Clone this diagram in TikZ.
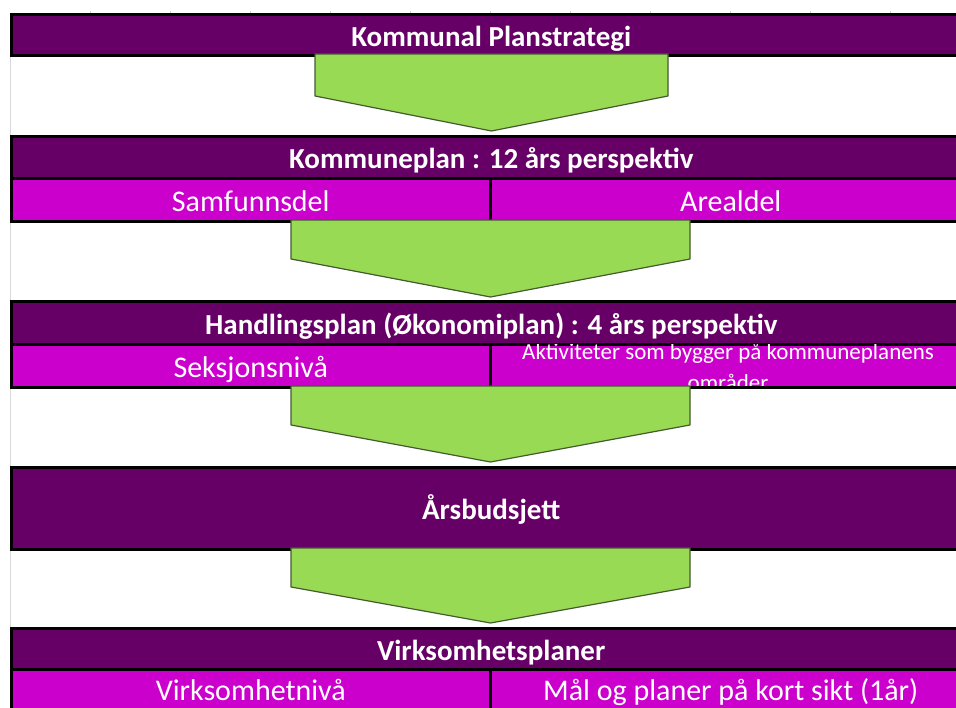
\documentclass[tikz,border=0pt]{standalone}
\usepackage{fontspec}
\setmainfont{Carlito}
\usetikzlibrary{calc}
\definecolor{plum}{RGB}{102,0,102}
\definecolor{orchid}{RGB}{204,0,204}
\definecolor{leaf}{RGB}{152,218,84}
\definecolor{leafedge}{RGB}{70,90,50}
\def\chevron(#1:#2)(#3:#4:#5){\draw[fill=leaf, draw=leafedge, line width=1.2pt, line join=round] (#1,#3) -- (#2,#3) -- (#2,#4) -- ({(#1+#2)/2},#5) -- (#1,#4) -- cycle;}
\tikzset{
	headbar/.style={draw=black, line width=2.5pt, fill=plum, text=white, anchor=north west, inner sep=0pt, minimum width=960, text height=26pt, text depth=3pt, font=\bfseries\fontsize{29}{34}\selectfont},
	subcell/.style={draw=black, line width=2.5pt, fill=orchid, text=white, anchor=north west, inner sep=0pt, minimum height=43, text height=26pt, text depth=3pt, font=\fontsize{30}{34}\selectfont}
}

\begin{document}
\begin{tikzpicture}[x=1pt, y=-1pt]
		%%%%% START %%%%%
		\useasboundingbox (0,0) rectangle (956,707);
		\clip (0,0) rectangle (956,707);
		
		\draw[color=black!15, line width=1pt] (10.5,13) -- (10.5,707);
		\foreach \tx in {90,170,...,890}
			\draw[color=black!20, line width=0.6pt] (\tx,10.5) -- (\tx,13);
		
		\node[headbar, minimum height=41] (strategi) at (10,13) {Kommunal Planstrategi};
		\chevron(315:668)(54:96:131);
		
		\node[headbar, minimum height=42] (kplan) at (10,135) {Kommuneplan : 12 års perspektiv};
		\node[subcell, minimum width=479] (samfunn) at (10,177) {Samfunnsdel};
		\node[subcell, minimum width=481] (areal) at (489,177) {Arealdel};
		\chevron(291:690)(220:259:297);
		
		\node[headbar, minimum height=43] (hplan) at (10,300) {Handlingsplan (Økonomiplan) : 4 års perspektiv};
		\node[subcell, minimum width=479] (seksjon) at (10,343) {Seksjonsnivå};
		\node[subcell, minimum width=481] (aktiv) at (489,343) {};
		\begin{scope}
			\clip (490,344) rectangle (970,385);
			\node[anchor=north, text=white, align=center, inner sep=0pt, font=\fontsize{23}{31}\selectfont] (aktivtekst) at (728,343) {Aktiviteter som bygger på kommuneplanens\\områder};
		\end{scope}
		\chevron(291:690)(386:425:462);
		
		\node[headbar, minimum height=82] (budsjett) at (10,466) {Årsbudsjett};
		\chevron(291:690)(548:587:623);
		
		\node[headbar, minimum height=41] (vplan) at (10,627) {Virksomhetsplaner};
		\node[subcell, minimum width=479, text height=24pt, text depth=5pt] (vniva) at (10,668) {Virksomhetnivå};
		\node[subcell, minimum width=481, text height=24pt, text depth=5pt] (kortsikt) at (489,668) {Mål og planer på kort sikt (1år)};
		
		%%%%% END %%%%%
	\end{tikzpicture}
\end{document}
